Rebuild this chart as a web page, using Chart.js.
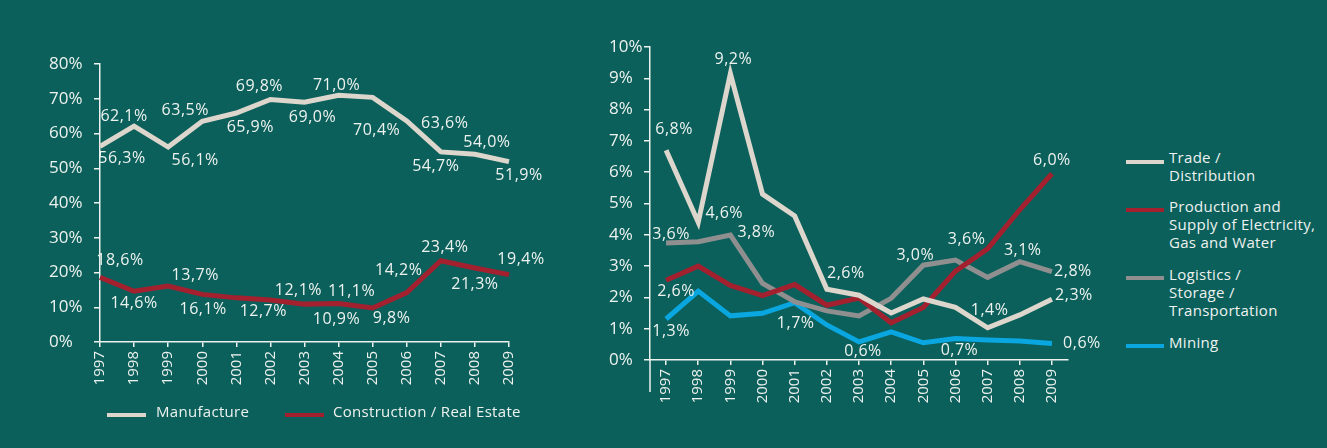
<!DOCTYPE html>
<html>
<head>
<meta charset="utf-8">
<script src="https://cdn.jsdelivr.net/npm/chart.js@4"></script>
<style>
    body { margin: 0; width: 1327px; height: 448px; overflow: hidden; background: #0b605b; font-family: "Open Sans", sans-serif; color: #eef2ef; }
    .box { position: absolute; top: 0; width: 560px; height: 448px; }
    .lg { position: absolute; font-size: 15px; line-height: 18px; letter-spacing: 0.3px; white-space: nowrap; }
    .sw { position: absolute; height: 4px; }
</style>
</head>
<body>
<div class="box" style="left:0"><canvas id="leftChart"></canvas></div>
<div class="box" style="left:560px"><canvas id="rightChart"></canvas></div>

<!-- left legend -->
<div class="sw" style="left:107px;top:413px;width:39px;background:#ddd6cc"></div>
<div class="lg" style="left:156px;top:402px">Manufacture</div>
<div class="sw" style="left:285px;top:413px;width:39px;background:#a3202f"></div>
<div class="lg" style="left:333px;top:402px">Construction / Real Estate</div>

<!-- right legend -->
<div class="sw" style="left:1126px;top:160px;width:38px;background:#ddd6cc"></div>
<div class="lg" style="left:1169px;top:148px">Trade /<br>Distribution</div>
<div class="sw" style="left:1126px;top:208px;width:38px;background:#a3202f"></div>
<div class="lg" style="left:1169px;top:197px">Production and<br>Supply of Electricity,<br>Gas and Water</div>
<div class="sw" style="left:1126px;top:276px;width:38px;background:#8f8f8f"></div>
<div class="lg" style="left:1169px;top:265px">Logistics /<br>Storage /<br>Transportation</div>
<div class="sw" style="left:1126px;top:344px;width:38px;background:#0aa6e0"></div>
<div class="lg" style="left:1169px;top:333px">Mining</div>

<script>
// categories
const years = ['1997', '1998', '1999', '2000', '2001', '2002', '2003', '2004', '2005', '2006', '2007', '2008', '2009'];

// left chart series (%)
const manufacture = [56.3, 62.1, 56.1, 63.5, 65.9, 69.8, 69.0, 71.0, 70.4, 63.6, 54.7, 54.0, 51.9];
const construction = [18.6, 14.6, 16.1, 13.7, 12.7, 12.1, 10.9, 11.1, 9.8, 14.2, 23.4, 21.3, 19.4];

// right chart series (%)
const trade = [6.7, 4.4, 9.15, 5.3, 4.6, 2.26, 2.07, 1.5, 1.95, 1.68, 1.03, 1.44, 1.94];
const electricity = [2.55, 3.0, 2.38, 2.06, 2.41, 1.75, 1.98, 1.19, 1.68, 2.84, 3.55, 4.8, 5.95];
const logistics = [3.74, 3.78, 3.99, 2.45, 1.86, 1.57, 1.41, 1.97, 3.03, 3.19, 2.64, 3.14, 2.82];
const mining = [1.31, 2.2, 1.41, 1.49, 1.83, 1.12, 0.58, 0.9, 0.55, 0.69, 0.64, 0.61, 0.53];

// value labels printed on the right chart
const tradeLabels = ['6,8%', '4,6%', '9,2%', null, null, '2,6%', null, null, null, null, '1,4%', null, '2,3%'];
const electricityLabels = ['2,6%', null, null, null, null, null, null, null, null, null, '3,6%', null, '6,0%'];
const logisticsLabels = ['3,6%', null, '3,8%', null, null, null, null, null, '3,0%', null, null, '3,1%', '2,8%'];
const miningLabels = ['1,3%', null, null, null, '1,7%', null, '0,6%', null, null, '0,7%', null, null, '0,6%'];

// where each label sits relative to its point [dx, dy]
const manufactureOffsets = [[22, 12], [-10, -10], [27, 13], [-17, -11], [14, 14], [-11, -13], [8, 15], [-2, -10], [4, 33], [38, 2], [-5, 15], [12, -12], [10, 14]];
const constructionOffsets = [[20, -17], [0, 12], [35, 23], [-7, -19], [27, 14], [28, -10], [32, 15], [13, -12], [19, 10], [-8, -22], [4, -13], [0, 16], [12, -15]];
const tradeOffsets = [[8, -21], [26, -9], [3, -14], null, null, [19, -16], null, null, null, null, [2, -17], null, [22, -4]];
const electricityOffsets = [[10, 11], null, null, null, null, null, null, null, null, null, [-21, -9], null, [0, -13]];
const logisticsOffsets = [[5, -9], null, [26, -3], null, null, null, null, null, [-8, -10], null, null, [3, -11], [21, 0]];
const miningOffsets = [[5, 12], null, null, null, [1, 21], null, [4, 10], null, null, [4, 12], null, null, [30, 0]];

const TEXT = '#eef2ef';
const BEIGE = '#ddd6cc';
const RED = '#a3202f';
const GREY = '#8f8f8f';
const BLUE = '#0aa6e0';

const pct = v => v.toFixed(1).replace('.', ',') + '%';

// draws the value labels next to the points
const valueLabels = {
    id: 'valueLabels',
    afterDatasetsDraw(chart) {
        const ctx = chart.ctx;
        ctx.save();
        ctx.fillStyle = TEXT;
        ctx.font = '16px "Open Sans"';
        ctx.letterSpacing = '0.5px';
        ctx.textAlign = 'center';
        ctx.textBaseline = 'middle';
        chart.data.datasets.forEach((ds, i) => {
            const meta = chart.getDatasetMeta(i);
            meta.data.forEach((pt, j) => {
                const txt = ds.labelText ? ds.labelText[j] : pct(ds.data[j]);
                const off = ds.labelOffset[j];
                if (!txt || !off) return;
                ctx.fillText(txt, pt.x + off[0], pt.y + off[1]);
            });
        });
        ctx.restore();
    }
};

// the right chart's y axis runs a little below the x axis
const axisTail = {
    id: 'axisTail',
    afterDraw(chart, args, opts) {
        if (!opts.length) return;
        const a = chart.chartArea;
        const ctx = chart.ctx;
        ctx.save();
        ctx.strokeStyle = TEXT;
        ctx.lineWidth = 1.5;
        ctx.beginPath();
        ctx.moveTo(a.left, a.bottom);
        ctx.lineTo(a.left, a.bottom + opts.length);
        ctx.stroke();
        ctx.restore();
    }
};

function line(label, data, color, offsets, labels) {
    return {
        label: label,
        data: data,
        borderColor: color,
        backgroundColor: color,
        borderWidth: 5,
        pointRadius: 0,
        tension: 0,
        borderCapStyle: 'butt',
        borderJoinStyle: 'miter',
        labelOffset: offsets,
        labelText: labels
    };
}

function scales(yMax, step, xHeight, yWidth, xOffset) {
    return {
        x: {
            offset: xOffset,
            grid: { offset: false, drawOnChartArea: false, drawTicks: true, tickLength: 5, color: TEXT, lineWidth: 1.5 },
            border: { color: TEXT, width: 1.5 },
            ticks: { color: TEXT, font: { family: 'Open Sans', size: 15 }, minRotation: 90, maxRotation: 90, autoSkip: false, padding: 4 },
            afterFit: s => { s.height = xHeight; }
        },
        y: {
            min: 0,
            max: yMax,
            grid: { drawOnChartArea: false, drawTicks: true, tickLength: 6, color: TEXT, lineWidth: 1.5 },
            border: { color: TEXT, width: 1.5 },
            ticks: { stepSize: step, color: TEXT, font: { family: 'Open Sans', size: 17 }, crossAlign: 'far', callback: v => v + '%' },
            afterFit: s => { s.width = yWidth; }
        }
    };
}

Chart.defaults.animation = false;

new Chart(document.getElementById('leftChart'), {
    type: 'line',
    data: {
        labels: years,
        datasets: [
            line('Manufacture', manufacture, BEIGE, manufactureOffsets),
            line('Construction / Real Estate', construction, RED, constructionOffsets)
        ]
    },
    options: {
        responsive: true,
        maintainAspectRatio: false,
        layout: { padding: { left: 49, top: 64, right: 51, bottom: 0 } },
        plugins: { legend: { display: false }, tooltip: { enabled: false }, axisTail: { length: 0 } },
        scales: scales(80, 10, 106, 51, false)
    },
    plugins: [valueLabels, axisTail]
});

new Chart(document.getElementById('rightChart'), {
    type: 'line',
    data: {
        labels: years,
        datasets: [
            line('Trade / Distribution', trade, BEIGE, tradeOffsets, tradeLabels),
            line('Production and Supply of Electricity, Gas and Water', electricity, RED, electricityOffsets, electricityLabels),
            line('Logistics / Storage / Transportation', logistics, GREY, logisticsOffsets, logisticsLabels),
            line('Mining', mining, BLUE, miningOffsets, miningLabels)
        ]
    },
    options: {
        responsive: true,
        maintainAspectRatio: false,
        layout: { padding: { left: 49, top: 47, right: 52, bottom: 0 } },
        plugins: { legend: { display: false }, tooltip: { enabled: false }, axisTail: { length: 32 } },
        scales: scales(10, 1, 88, 41, true)
    },
    plugins: [valueLabels, axisTail]
});
</script>
</body>
</html>
